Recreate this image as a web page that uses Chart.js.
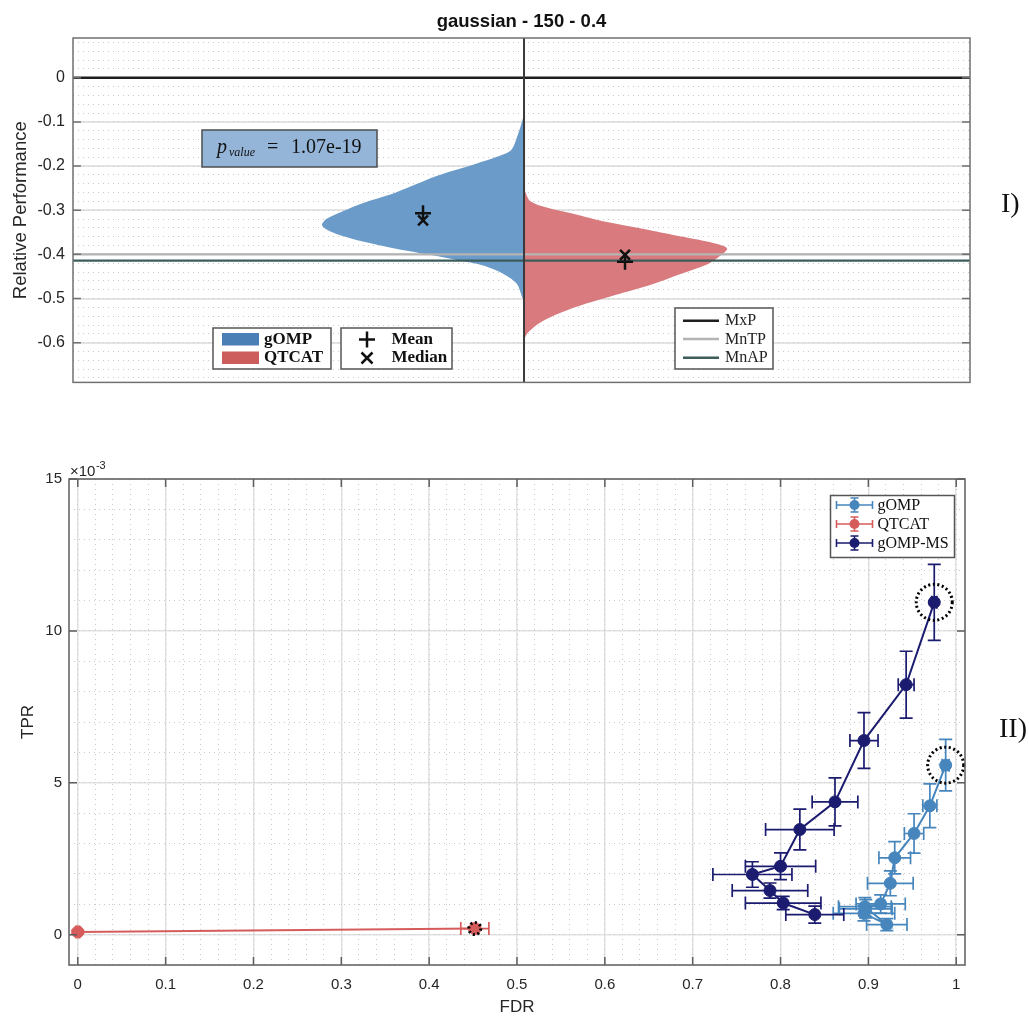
<!DOCTYPE html>
<html><head><meta charset="utf-8">
<script src="https://cdn.jsdelivr.net/npm/chart.js@4.4.1/dist/chart.umd.min.js"></script>
<style>
html,body{margin:0;padding:0;background:#fff;width:1029px;height:1016px;overflow:hidden;}
body{position:relative;}
#c1{position:absolute;left:0;top:0;}
#c2{position:absolute;left:0;top:440px;}
.lab{position:absolute;font-family:"Liberation Serif",serif;font-size:28px;color:#111;line-height:1;}
</style></head><body>
<canvas id="c1" width="1029" height="400"></canvas>
<canvas id="c2" width="1029" height="576"></canvas>
<div class="lab" style="left:1001px;top:189px">I)</div>
<div class="lab" style="left:999px;top:714px">II)</div>
<script>
// ---------------- DATA : top panel (violins) ----------------
const topTitle = 'gaussian - 150 - 0.4';
const topYTicks = [0, -0.1, -0.2, -0.3, -0.4, -0.5, -0.6];
const topYTickLabels = ['0', '-0.1', '-0.2', '-0.3', '-0.4', '-0.5', '-0.6'];
// relative performance values along the violin and relative density (0..1)
const gompViolinY = [-0.076,-0.091,-0.135,-0.164,-0.179,-0.194,-0.212,-0.227,-0.246,-0.264,-0.283,-0.301,-0.319,-0.334,-0.349,-0.364,-0.378,-0.392,-0.404,-0.413,-0.426,-0.445,-0.467,-0.496,-0.507];
const gompViolinD = [0,0.005,0.035,0.064,0.134,0.233,0.361,0.46,0.559,0.658,0.792,0.891,0.975,1.0,0.955,0.856,0.728,0.579,0.431,0.332,0.198,0.099,0.035,0.01,0];
const qtcatViolinY = [-0.25,-0.257,-0.279,-0.294,-0.308,-0.327,-0.341,-0.356,-0.371,-0.386,-0.404,-0.423,-0.445,-0.467,-0.489,-0.511,-0.533,-0.555,-0.577,-0.592];
const qtcatViolinD = [0,0.005,0.03,0.112,0.243,0.411,0.574,0.738,0.906,1.005,0.97,0.906,0.772,0.639,0.475,0.312,0.178,0.079,0.02,0];
const meanValues = [-0.307, -0.417];     // gOMP, QTCAT
const medianValues = [-0.323, -0.401];   // gOMP, QTCAT
const markerSide = [-0.5, 0.5];          // position in density units (left = gOMP, right = QTCAT)
const refNames = ['MxP', 'MnTP', 'MnAP'];
const refValues = [0, -0.400, -0.414];
const pvalueText = '1.07e-19';
const violinNames = ['gOMP', 'QTCAT'];

// ---------------- DATA : bottom panel (TPR vs FDR) ----------------
const bottomXTicks = [0,0.1,0.2,0.3,0.4,0.5,0.6,0.7,0.8,0.9,1];
const bottomXTickLabels = ['0','0.1','0.2','0.3','0.4','0.5','0.6','0.7','0.8','0.9','1'];
const bottomYTicks = [0,5,10,15];
const bottomYTickLabels = ['0','5','10','15'];
// TPR values are in units of 1e-3
const gompFDR    = [0.988,0.970,0.952,0.930,0.925,0.914,0.896,0.921,0.895,0.897];
const gompTPR    = [5.58,4.24,3.33,2.53,1.69,1.01,0.92,0.33,0.70,0.85];
const gompErrFDR = [0.004,0.008,0.011,0.018,0.026,0.028,0.030,0.023,0.035,0.030];
const gompErrTPR = [0.85,0.72,0.65,0.53,0.41,0.30,0.30,0.20,0.25,0.30];
const qtcatFDR    = [0, 0.452];
const qtcatTPR    = [0.09, 0.20];
const qtcatErrFDR = [0.002, 0.016];
const qtcatErrTPR = [0.05, 0.06];
const gompMsFDR    = [0.975,0.943,0.895,0.862,0.822,0.800,0.768,0.788,0.803,0.839];
const gompMsTPR    = [10.94,8.23,6.39,4.37,3.46,2.25,1.98,1.45,1.04,0.66];
const gompMsErrFDR = [0.003,0.009,0.016,0.026,0.039,0.040,0.045,0.043,0.043,0.033];
const gompMsErrTPR = [1.25,1.10,0.92,0.79,0.67,0.44,0.42,0.25,0.22,0.28];
const seriesNames = ['gOMP', 'QTCAT', 'gOMP-MS'];
const highlightFDR = [0.975, 0.988, 0.452];
const highlightTPR = [10.94, 5.58, 0.20];

// ---------------- styles ----------------
const SANS = '"Liberation Sans", Arial, Helvetica, sans-serif';
const SERIF = '"Liberation Serif", "Times New Roman", serif';
Chart.defaults.font.family = SANS;
Chart.defaults.color = '#262626';
const C_VBLUE = '#6a9bc9', C_VRED = '#d97a7e';
const C_LBLUE = '#4a7fb6', C_LRED = '#cd5c5c';
const C_GOMP = '#4786bd', C_QTCAT = '#d65c5c', C_MS = '#1b1b6f';
const refColors = ['#1e1e1e', '#b4b4b4', '#3d5d5d'];

function stepTicks(min, max, step) {
  const out = []; const s = Math.ceil(min / step - 1e-9), e = Math.floor(max / step + 1e-9);
  for (let k = s; k <= e; k++) out.push({ value: +(k * step).toFixed(6) });
  return out;
}
function minorAxis(axis, pos, min, max, step) {
  return {
    type: 'linear', axis: axis, position: pos, min: min, max: max,
    ticks: { display: false },
    grid: { color: '#cbcbcb', lineWidth: 1, drawTicks: false },
    border: { display: false, dash: [1, 4] },
    afterBuildTicks: s => { s.ticks = stepTicks(min, max, step); },
    afterFit: s => { if (axis === 'x') s.height = 0; else s.width = 0; }
  };
}

// ================= TOP CHART =================
const TX_MIN = -2.233, TX_MAX = 2.208, TY_MIN = -0.69, TY_MAX = 0.09;

const topDecor = {
  id: 'topDecor',
  afterDraw(chart) {
    const { ctx, chartArea: a } = chart;
    const y = chart.scales.y;
    ctx.save();
    ctx.strokeStyle = '#707070'; ctx.lineWidth = 1.5;
    ctx.strokeRect(a.left, a.top, a.right - a.left, a.bottom - a.top);
    ctx.beginPath();
    topYTicks.forEach(v => {
      const py = y.getPixelForValue(v);
      ctx.moveTo(a.left, py); ctx.lineTo(a.left + 8, py);
      ctx.moveTo(a.right, py); ctx.lineTo(a.right - 8, py);
    });
    ctx.stroke();

    // p-value box
    ctx.fillStyle = '#94b5d8'; ctx.fillRect(202, 130, 175, 37);
    ctx.strokeStyle = '#4d4d4d'; ctx.lineWidth = 1.5; ctx.strokeRect(202, 130, 175, 37);
    ctx.fillStyle = '#111'; ctx.textBaseline = 'alphabetic'; ctx.textAlign = 'left';
    ctx.font = 'italic 20px ' + SERIF; ctx.fillText('p', 217, 153);
    ctx.font = 'italic 12px ' + SERIF; ctx.fillText('value', 229, 156);
    ctx.font = '20px ' + SERIF; ctx.fillText('=', 267, 153); ctx.fillText(pvalueText, 291, 153);

    // legend 1 : violins
    ctx.fillStyle = '#fff'; ctx.fillRect(213, 328, 118, 41);
    ctx.strokeStyle = '#555'; ctx.lineWidth = 1.5; ctx.strokeRect(213, 328, 118, 41);
    ctx.fillStyle = C_LBLUE; ctx.fillRect(222, 333, 37, 12.5);
    ctx.fillStyle = C_LRED; ctx.fillRect(222, 351.5, 37, 12.5);
    ctx.fillStyle = '#111'; ctx.font = 'bold 17px ' + SERIF; ctx.textBaseline = 'middle';
    ctx.fillText(violinNames[0], 264, 339.5); ctx.fillText(violinNames[1], 264, 358);

    // legend 2 : markers
    ctx.fillStyle = '#fff'; ctx.fillRect(341, 328, 111, 41);
    ctx.strokeStyle = '#555'; ctx.strokeRect(341, 328, 111, 41);
    ctx.strokeStyle = '#111'; ctx.lineWidth = 2.5; ctx.beginPath();
    ctx.moveTo(359, 339.5); ctx.lineTo(375, 339.5); ctx.moveTo(367, 331.5); ctx.lineTo(367, 347.5);
    ctx.moveTo(361.5, 352.5); ctx.lineTo(372.5, 363.5); ctx.moveTo(372.5, 352.5); ctx.lineTo(361.5, 363.5);
    ctx.stroke();
    ctx.fillStyle = '#111'; ctx.fillText('Mean', 391.5, 339.5); ctx.fillText('Median', 391.5, 358);

    // legend 3 : reference lines
    ctx.fillStyle = '#fff'; ctx.fillRect(675, 308, 98, 61);
    ctx.strokeStyle = '#555'; ctx.lineWidth = 1.5; ctx.strokeRect(675, 308, 98, 61);
    const rows = [320.7, 339, 357.7];
    ctx.font = '16px ' + SERIF;
    rows.forEach((ry, i) => {
      ctx.strokeStyle = refColors[i]; ctx.lineWidth = 2.5; ctx.beginPath();
      ctx.moveTo(683, ry); ctx.lineTo(719, ry); ctx.stroke();
      ctx.fillStyle = '#222'; ctx.fillText(refNames[i], 725, ry + 0.5);
    });
    ctx.restore();
  }
};

const topDatasets = [];
// mean / median markers
topDatasets.push({
  data: markerSide.map((s, i) => ({ x: s, y: meanValues[i] })),
  pointStyle: 'cross', pointRadius: 8, pointBorderColor: '#111', pointBorderWidth: 2.5,
  showLine: false, order: 0
});
topDatasets.push({
  data: markerSide.map((s, i) => ({ x: s, y: medianValues[i] })),
  pointStyle: 'crossRot', pointRadius: 7, pointBorderColor: '#111', pointBorderWidth: 2.5,
  showLine: false, order: 0
});
// center divider
topDatasets.push({
  data: [{ x: 0, y: TY_MIN }, { x: 0, y: TY_MAX }],
  showLine: true, borderColor: '#3a3a3a', borderWidth: 2, pointRadius: 0, order: 1
});
// reference lines
refValues.forEach((v, i) => {
  topDatasets.push({
    label: refNames[i],
    data: [{ x: TX_MIN, y: v }, { x: TX_MAX, y: v }],
    showLine: true, borderColor: refColors[i], borderWidth: i === 0 ? 2.5 : 2.2, pointRadius: 0, order: 1
  });
});
// violins
topDatasets.push({
  label: violinNames[0],
  data: gompViolinY.map((v, i) => ({ x: -gompViolinD[i], y: v })),
  showLine: true, fill: 'shape', backgroundColor: C_VBLUE, borderColor: 'rgba(0,0,0,0)', borderWidth: 0.1,
  pointRadius: 0, tension: 0.3, order: 2
});
topDatasets.push({
  label: violinNames[1],
  data: qtcatViolinY.map((v, i) => ({ x: qtcatViolinD[i], y: v })),
  showLine: true, fill: 'shape', backgroundColor: C_VRED, borderColor: 'rgba(0,0,0,0)', borderWidth: 0.1,
  pointRadius: 0, tension: 0.3, order: 2
});

new Chart(document.getElementById('c1'), {
  type: 'scatter',
  data: { datasets: topDatasets },
  plugins: [topDecor],
  options: {
    responsive: false, animation: false, devicePixelRatio: 1, events: [],
    layout: { padding: { left: 0, right: 59, top: 0, bottom: 9 } },
    plugins: {
      legend: { display: false }, tooltip: { enabled: false },
      title: { display: true, text: topTitle, fullSize: false, color: '#111',
        font: { size: 18.5, weight: 'bold', family: SANS, lineHeight: 1.2 }, padding: { top: 11, bottom: 4.8 } }
    },
    scales: {
      x: { type: 'linear', min: TX_MIN, max: TX_MAX, display: false },
      y: {
        type: 'linear', position: 'left', min: TY_MIN, max: TY_MAX,
        afterBuildTicks: s => { s.ticks = topYTicks.map(v => ({ value: v })); },
        afterFit: s => { s.width = 73; },
        ticks: { callback: (v, i) => topYTickLabels[i], padding: 8, font: { size: 16 }, color: '#262626' },
        grid: { color: '#e4e4e4', lineWidth: 2, drawTicks: false },
        border: { display: false },
        title: { display: true, text: 'Relative Performance', color: '#262626',
          font: { size: 18.5, lineHeight: 1 }, padding: { top: 11.5, bottom: 0 } }
      },
      yMinor: minorAxis('y', 'left', TY_MIN, TY_MAX, 0.02)
    }
  }
});

// ================= BOTTOM CHART =================
const BX_MIN = -0.01, BX_MAX = 1.01, BY_MIN = -1, BY_MAX = 15;

const errorBars = {
  id: 'errorBars',
  beforeDatasetDraw(chart, args) {
    const ds = chart.data.datasets[args.index];
    if (!ds.errX) return;
    const { ctx, chartArea: a } = chart;
    const x = chart.scales.x, y = chart.scales.y;
    const cap = 6.5;
    ctx.save();
    ctx.beginPath(); ctx.rect(a.left, a.top, a.right - a.left, a.bottom - a.top); ctx.clip();
    ctx.strokeStyle = ds.borderColor; ctx.lineWidth = 1.7;
    ds.data.forEach((p, i) => {
      const px = x.getPixelForValue(p.x), py = y.getPixelForValue(p.y);
      const x1 = x.getPixelForValue(p.x - ds.errX[i]), x2 = x.getPixelForValue(p.x + ds.errX[i]);
      const y1 = y.getPixelForValue(p.y - ds.errY[i]), y2 = y.getPixelForValue(p.y + ds.errY[i]);
      ctx.beginPath();
      ctx.moveTo(x1, py); ctx.lineTo(x2, py);
      ctx.moveTo(x1, py - cap); ctx.lineTo(x1, py + cap);
      ctx.moveTo(x2, py - cap); ctx.lineTo(x2, py + cap);
      ctx.moveTo(px, y1); ctx.lineTo(px, y2);
      ctx.moveTo(px - cap, y1); ctx.lineTo(px + cap, y1);
      ctx.moveTo(px - cap, y2); ctx.lineTo(px + cap, y2);
      ctx.stroke();
    });
    ctx.restore();
  }
};

const bottomDecor = {
  id: 'bottomDecor',
  afterDatasetsDraw(chart) {
    const { ctx } = chart;
    const x = chart.scales.x, y = chart.scales.y;
    const radii = [18, 18, 6];
    ctx.save();
    ctx.strokeStyle = '#000'; ctx.lineWidth = 3; ctx.setLineDash([2, 2.6]);
    highlightFDR.forEach((f, i) => {
      ctx.beginPath();
      ctx.arc(x.getPixelForValue(f), y.getPixelForValue(highlightTPR[i]), radii[i], 0, Math.PI * 2);
      ctx.stroke();
    });
    ctx.restore();
  },
  afterDraw(chart) {
    const { ctx, chartArea: a } = chart;
    const x = chart.scales.x, y = chart.scales.y;
    ctx.save();
    ctx.strokeStyle = '#5e5e5e'; ctx.lineWidth = 1.5;
    ctx.strokeRect(a.left, a.top, a.right - a.left, a.bottom - a.top);
    ctx.beginPath();
    bottomXTicks.forEach(v => {
      const px = x.getPixelForValue(v);
      ctx.moveTo(px, a.bottom); ctx.lineTo(px, a.bottom - 8);
      ctx.moveTo(px, a.top); ctx.lineTo(px, a.top + 8);
    });
    bottomYTicks.forEach(v => {
      const py = y.getPixelForValue(v);
      ctx.moveTo(a.left, py); ctx.lineTo(a.left + 8, py);
      ctx.moveTo(a.right, py); ctx.lineTo(a.right - 8, py);
    });
    ctx.stroke();

    // exponent label
    ctx.fillStyle = '#262626'; ctx.textAlign = 'left'; ctx.textBaseline = 'alphabetic';
    ctx.font = '15px ' + SANS; ctx.fillText('\u00d710', 70, 36);
    const w = ctx.measureText('\u00d710').width;
    ctx.font = '11px ' + SANS; ctx.fillText('-3', 70 + w + 0.5, 29);

    // legend
    const L = 830.5, T = 55.5, W = 124, H = 62;
    ctx.fillStyle = '#fff'; ctx.fillRect(L, T, W, H);
    ctx.strokeStyle = '#555'; ctx.lineWidth = 1.5; ctx.strokeRect(L, T, W, H);
    const cols = [C_GOMP, C_QTCAT, C_MS];
    const rows = [65, 84, 103];
    ctx.font = '16px ' + SERIF; ctx.textBaseline = 'middle';
    rows.forEach((ry, i) => {
      const cx = L + 24;
      ctx.strokeStyle = cols[i]; ctx.lineWidth = 1.6; ctx.beginPath();
      ctx.moveTo(L + 6, ry); ctx.lineTo(L + 42, ry);
      ctx.moveTo(L + 6, ry - 4); ctx.lineTo(L + 6, ry + 4);
      ctx.moveTo(L + 42, ry - 4); ctx.lineTo(L + 42, ry + 4);
      ctx.moveTo(cx, ry - 7); ctx.lineTo(cx, ry + 7);
      ctx.moveTo(cx - 4, ry - 7); ctx.lineTo(cx + 4, ry - 7);
      ctx.moveTo(cx - 4, ry + 7); ctx.lineTo(cx + 4, ry + 7);
      ctx.stroke();
      ctx.fillStyle = cols[i]; ctx.beginPath(); ctx.arc(cx, ry, 5, 0, Math.PI * 2); ctx.fill();
      ctx.fillStyle = '#111'; ctx.fillText(seriesNames[i], L + 47, ry + 0.5);
    });
    ctx.restore();
  }
};

function series(name, fdr, tpr, efdr, etpr, color, order) {
  return {
    label: name,
    data: fdr.map((f, i) => ({ x: f, y: tpr[i] })),
    errX: efdr, errY: etpr,
    showLine: true, borderColor: color, backgroundColor: color, borderWidth: 2,
    pointRadius: 6, pointBackgroundColor: color, pointBorderColor: color, pointBorderWidth: 1,
    tension: 0, order: order
  };
}

new Chart(document.getElementById('c2'), {
  type: 'scatter',
  data: {
    datasets: [
      series(seriesNames[2], gompMsFDR, gompMsTPR, gompMsErrFDR, gompMsErrTPR, C_MS, 0),
      series(seriesNames[1], qtcatFDR, qtcatTPR, qtcatErrFDR, qtcatErrTPR, C_QTCAT, 1),
      series(seriesNames[0], gompFDR, gompTPR, gompErrFDR, gompErrTPR, C_GOMP, 2)
    ]
  },
  plugins: [errorBars, bottomDecor],
  options: {
    responsive: false, animation: false, devicePixelRatio: 1, events: [],
    layout: { padding: { left: 0, right: 64, top: 39, bottom: 0 } },
    plugins: { legend: { display: false }, tooltip: { enabled: false } },
    scales: {
      x: {
        type: 'linear', position: 'bottom', min: BX_MIN, max: BX_MAX,
        afterBuildTicks: s => { s.ticks = bottomXTicks.map(v => ({ value: v })); },
        afterFit: s => { s.height = 51; },
        ticks: { callback: (v, i) => bottomXTickLabels[i], padding: 11, font: { size: 15 }, maxRotation: 0, autoSkip: false, color: '#262626' },
        grid: { color: '#e2e2e2', lineWidth: 1.5, drawTicks: false },
        border: { display: false },
        title: { display: true, text: 'FDR', color: '#262626', font: { size: 17, lineHeight: 1 }, padding: { top: 0, bottom: 0 } }
      },
      y: {
        type: 'linear', position: 'left', min: BY_MIN, max: BY_MAX,
        afterBuildTicks: s => { s.ticks = bottomYTicks.map(v => ({ value: v })); },
        afterFit: s => { s.width = 69; },
        ticks: { callback: (v, i) => bottomYTickLabels[i], padding: 7, font: { size: 15 }, color: '#262626' },
        grid: { color: '#e2e2e2', lineWidth: 1.5, drawTicks: false },
        border: { display: false },
        title: { display: true, text: 'TPR', color: '#262626', font: { size: 17, lineHeight: 1 }, padding: { top: 19.5, bottom: 0 } }
      },
      xMinor: minorAxis('x', 'bottom', BX_MIN, BX_MAX, 0.02),
      yMinor: minorAxis('y', 'left', BY_MIN, BY_MAX, 1)
    }
  }
});
</script>
</body></html>
